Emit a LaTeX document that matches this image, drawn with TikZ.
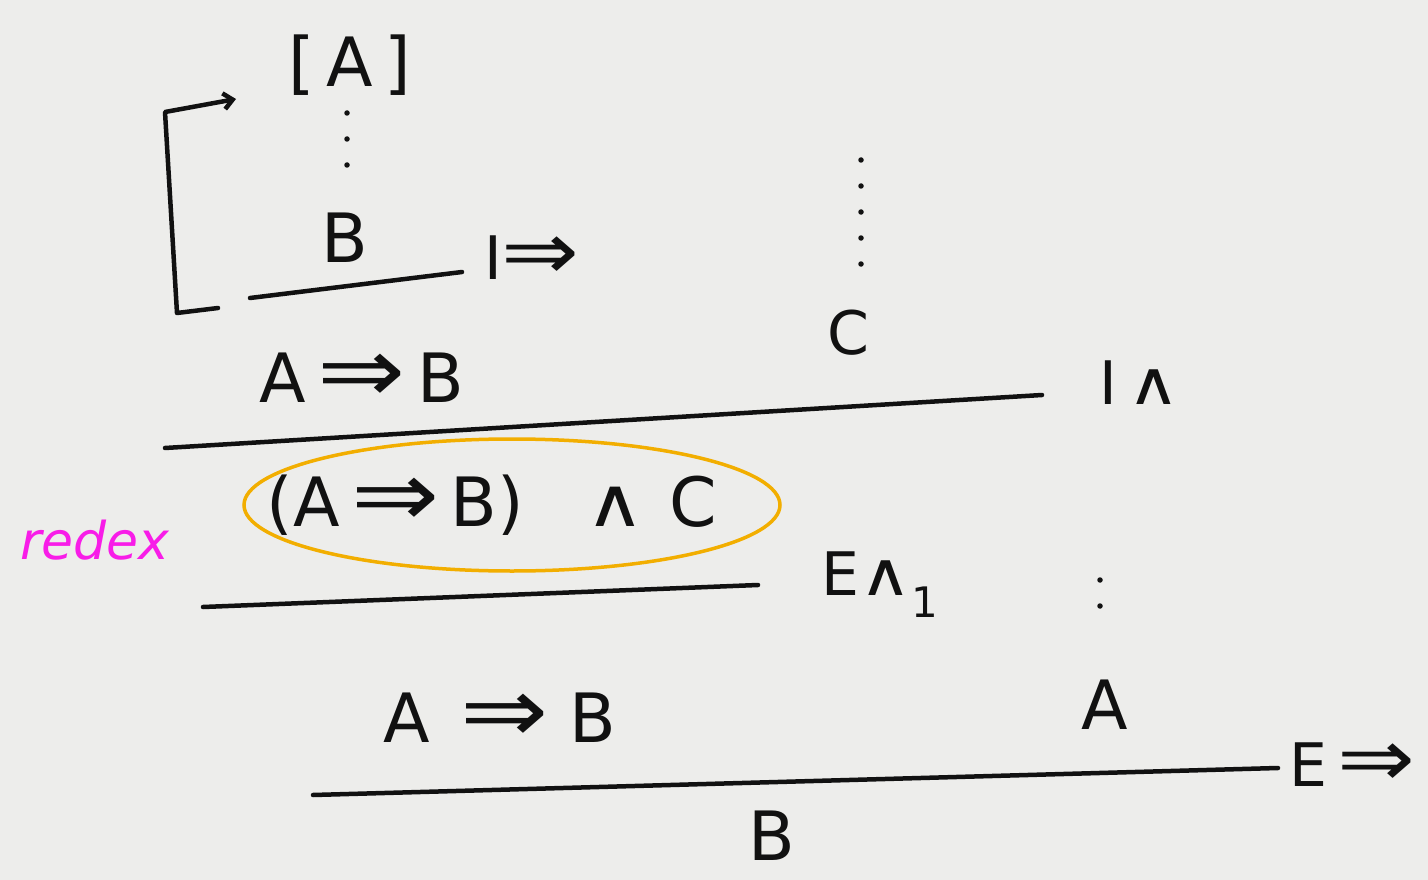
\documentclass[tikz,border=0pt]{standalone}
\usepackage{fontspec}
\setmainfont{DejaVu Sans}
\usetikzlibrary{arrows.meta}
\definecolor{paper}{HTML}{EDEDEB}
\definecolor{ink}{HTML}{111111}
\definecolor{ring}{HTML}{F2AE00}
\definecolor{pink}{HTML}{F81CE8}
\newcommand{\bimp}{\scalebox{1.55}[1.35]{⇒}}
\newcommand{\band}{\scalebox{1.2}[1.0]{∧}}
\tikzset{
  formula/.style={inner sep=0pt, text=ink, font=\fontsize{68}{70}\selectfont},
  rulename/.style={inner sep=0pt, text=ink, font=\fontsize{60}{62}\selectfont},
  ruleline/.style={draw=ink, line width=4.5pt, line cap=round},
  vdots/.style={draw=ink, line width=5.5pt, line cap=round, dash pattern=on 0pt off 26pt},
  redexring/.style={draw=ring, line width=3.5pt},
  note/.style={inner sep=0pt, text=pink, font=\itshape\fontsize{52}{54}\selectfont},
  discharge/.style={draw=ink, line width=4.5pt, line cap=round, line join=round, -{Straight Barb[length=9pt,width=16pt]}}
}
\begin{document}
\begin{tikzpicture}[x=1pt,y=-1pt]
\fill[paper] (0,0) rectangle (1428,880);
\useasboundingbox (0,0) rectangle (1428,880);
% top subproof
\node[formula] (hypA) at (350,65) {[\,A\,]};
\node[formula] (B1) at (345,238) {B};
\draw[vdots] (347,113) -- (347,170);
\coordinate (l1a) at (250,298);
\coordinate (l1b) at (462,272);
\draw[ruleline] (l1a) -- (l1b);
\node[rulename] (Iimp) at (532,258) {I\bimp};
% discharge bracket
\coordinate (d0) at (218,308);
\coordinate (d1) at (177,313);
\coordinate (d2) at (165,112);
\coordinate (d3) at (236,99);
\draw[discharge] (d0) -- (d1) -- (d2) -- (d3);
% C branch
\coordinate (c0) at (861,160);
\coordinate (c1) at (861,280);
\draw[vdots] (c0) -- (c1);
\node[rulename] (C1) at (848,333) {C};
% second row
\node[formula] (AB1) at (362,378) {A\,\bimp\,B};
\coordinate (l2a) at (165,448);
\coordinate (l2b) at (1042,395);
\draw[ruleline] (l2a) -- (l2b);
\node[rulename] (Iand) at (1140,383) {I\,\band};
% redex row
\node[formula] (conj) at (492,505) {(A\,\bimp\,B)\hspace{0.9em}\band\,\hspace{0.2em}C};
\draw[redexring] (512,505) ellipse [x radius=268, y radius=66];
\node[note] (redex) at (95,540) {redex};
\coordinate (l3a) at (203,607);
\coordinate (l3b) at (758,585);
\draw[ruleline] (l3a) -- (l3b);
\node[rulename] (Eand) at (880,585) {E\band\textsubscript{1}};
% bottom
\node[formula] (AB2) at (500,718) {A\hspace{0.45em}\bimp\hspace{0.3em}B};
\draw[vdots] (1100,580) -- (1100,632);
\node[formula] (A2) at (1105,705) {A};
\coordinate (l4a) at (313,795);
\coordinate (l4b) at (1278,768);
\draw[ruleline] (l4a) -- (l4b);
\node[rulename] (Eimp) at (1352,765) {E\,\bimp};
\node[formula] (Bfin) at (772,836) {B};
\end{tikzpicture}
\end{document}
